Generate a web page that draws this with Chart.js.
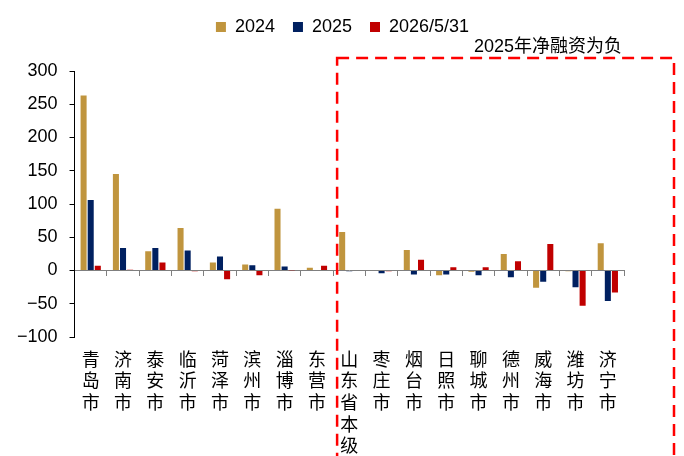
<!DOCTYPE html>
<html>
<head>
<meta charset="utf-8">
<script src="https://cdn.jsdelivr.net/npm/chart.js@4/dist/chart.umd.min.js"></script>
<style>
  html, body { margin: 0; padding: 0; background: #fff; }
  #wrap { width: 684px; height: 456px; position: relative; }
</style>
</head>
<body>
<div id="wrap"><canvas id="chart"></canvas></div>
<script>
// Data
const cities = ['青岛市', '济南市', '泰安市', '临沂市', '菏泽市', '滨州市', '淄博市', '东营市',
  '山东省本级', '枣庄市', '烟台市', '日照市', '聊城市', '德州市', '威海市', '潍坊市', '济宁市'];
const seriesNames = ['2024', '2025', '2026/5/31'];
const v2024 = [263, 145, 29, 64, 12, 9, 93, 4, 58, 0, 31, -7, -2, 25, -26, -1, 41];
const v2025 = [106, 34, 34, 30, 21, 8, 6, 0, -1, -4, -6, -6, -7, -10, -17, -25, -46];
const v2026 = [7, 1, 12, -1, -13, -7, 0.5, 7, 0, -1, 16, 5, 5, 14, 40, -53, -33];
const yTicks = [-100, -50, 0, 50, 100, 150, 200, 250, 300];
const boxNote = '2025年净融资为负';
const firstBoxedIndex = 8; // 山东省本级 onward

const colors = ['#C0953E', '#002060', '#C00000'];
const FONT = '"Liberation Sans", "Noto Sans CJK SC", sans-serif';

// extra room under the legend, and nudge it right like the original
const legendTweak = {
  id: 'legendTweak',
  beforeInit(chart) {
    const fit = chart.legend.fit;
    chart.legend.fit = function () {
      fit.call(this);
      this.height += 25;
    };
  },
  afterLayout(chart) {
    chart.legend.left += 28;
    chart.legend.right += 28;
  }
};

// dashed box around the negative-financing group + note above it
const boxPlugin = {
  id: 'negBox',
  afterDraw(chart) {
    const { ctx, chartArea, scales } = chart;
    const x = scales.x;
    const left = (x.getPixelForValue(firstBoxedIndex - 1) + x.getPixelForValue(firstBoxedIndex)) / 2 + 4;
    const right = chartArea.right + 50;
    const top = chartArea.top - 13;
    const bottom = chart.height + 10;
    ctx.save();
    ctx.strokeStyle = '#FF0000';
    ctx.lineWidth = 2.5;
    ctx.setLineDash([12, 7]);
    ctx.strokeRect(left, top, right - left, bottom - top);
    ctx.setLineDash([]);
    ctx.fillStyle = '#000';
    ctx.font = '18px ' + FONT;
    ctx.textAlign = 'right';
    ctx.textBaseline = 'middle';
    ctx.fillText(boxNote, chartArea.right - 2, top - 11);
    ctx.restore();
  }
};

new Chart(document.getElementById('chart'), {
  type: 'bar',
  data: {
    labels: cities.map(c => c.split('')),
    datasets: [v2024, v2025, v2026].map((d, i) => ({
      label: seriesNames[i],
      data: d,
      backgroundColor: colors[i],
      categoryPercentage: 0.66,
      barPercentage: 0.85
    }))
  },
  options: {
    responsive: true,
    maintainAspectRatio: false,
    animation: false,
    layout: { padding: { left: 5, right: 60, top: 0, bottom: 0 } },
    plugins: {
      legend: {
        position: 'top',
        labels: {
          color: '#000',
          font: { size: 18, family: FONT },
          boxWidth: 10,
          boxHeight: 10,
          padding: 18
        }
      },
      tooltip: { enabled: false }
    },
    scales: {
      x: {
        grid: { display: false, drawTicks: false },
        border: { display: false },
        afterFit(scale) { scale.height = 119; },
        ticks: {
          color: '#000',
          autoSkip: false,
          maxRotation: 0,
          padding: 13,
          font: { size: 18, family: FONT, lineHeight: 1.2 }
        }
      },
      x2: {
        type: 'category',
        position: { y: 0 },
        offset: true,
        grid: { offset: true, drawOnChartArea: false, drawTicks: true, tickLength: 5, color: '#7f7f7f' },
        border: { color: '#7f7f7f' },
        ticks: { display: false }
      },
      y: {
        min: yTicks[0],
        max: yTicks[yTicks.length - 1],
        grid: { drawOnChartArea: false, tickLength: 5, color: '#000' },
        border: { color: '#000' },
        afterBuildTicks(scale) { scale.ticks = yTicks.map(v => ({ value: v })); },
        ticks: {
          color: '#000',
          padding: 12,
          font: { size: 18, family: FONT },
          callback: v => String(v).replace('-', '\u2212')
        }
      }
    }
  },
  plugins: [legendTweak, boxPlugin]
});
</script>
</body>
</html>
